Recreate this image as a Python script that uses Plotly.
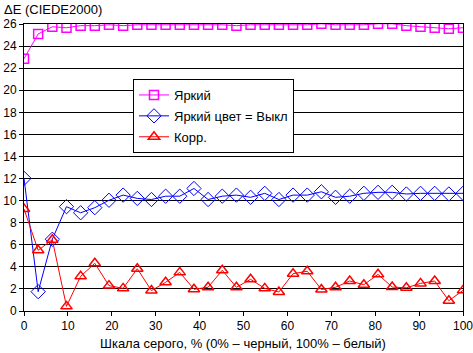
import plotly.graph_objects as go

x_vals = [i * 100 / 31 for i in range(32)]

bright = [22.85, 25.1, 25.75, 25.66, 25.85, 25.85, 25.93, 25.85, 25.93, 25.93,
          25.93, 25.93, 25.93, 25.93, 25.93, 25.85, 25.93, 25.93, 25.93, 25.93,
          25.93, 26.02, 25.93, 25.93, 25.93, 26.02, 26.02, 25.85, 25.75, 25.66,
          25.57, 25.66]

bright_off = [12.02, 1.75, 6.5, 9.45, 8.9, 9.36, 10.03, 10.5, 10.2, 10.1,
              10.4, 10.4, 11.1, 10.1, 10.4, 10.5, 10.3, 10.66, 10.1, 10.5,
              10.5, 10.8, 10.3, 10.4, 10.66, 10.75, 10.75, 10.6, 10.66, 10.66,
              10.6, 10.66]

corr = [9.24, 5.5, 6.46, 0.42, 3.14, 4.32, 2.3, 2.05, 3.83, 1.85,
        2.6, 3.5, 1.97, 2.15, 3.69, 2.15, 2.87, 2.05, 1.72, 3.38,
        3.6, 1.95, 2.15, 2.72, 2.38, 3.32, 2.17, 2.1, 2.5, 2.72,
        0.93, 1.87]

names = ["Яркий", "Яркий цвет = Выкл", "Корр."]
y_title = "ΔE (CIEDE2000)"
x_title = "Шкала серого, % (0% – черный, 100% – белый)"

FONT = "Liberation Sans, Arial, sans-serif"
FS = 13
TFS = 12

fig = go.Figure()
fig.add_trace(go.Scatter(
    x=x_vals, y=bright, name=names[0], mode="lines+markers", legendgroup="a",
    line=dict(color="#FF00FF", width=1),
    marker=dict(symbol="square-open", size=9, color="#FF00FF", line=dict(width=1.5))))
fig.add_trace(go.Scatter(
    x=x_vals, y=bright_off, name=names[1], mode="lines+markers", legendgroup="b",
    line=dict(color="#0000FF", width=1),
    marker=dict(symbol="diamond-open", size=11, color="#0000FF", line=dict(width=1))))
fig.add_trace(go.Scatter(
    x=x_vals, y=corr, name=names[2], mode="lines+markers", legendgroup="c",
    line=dict(color="#FF0000", width=1),
    marker=dict(symbol="triangle-up-open", size=10, color="#FF0000", line=dict(width=1.5))))

fig.update_layout(
    width=473, height=353,
    margin=dict(l=24, r=10, t=24, b=42),
    paper_bgcolor="white", plot_bgcolor="white",
    font=dict(family=FONT, size=FS, color="black"),
    showlegend=True,
    legend=dict(
        x=(133 - 24) / 439, y=(311 - 79) / 287, xanchor="left", yanchor="top",
        bgcolor="white", bordercolor="black", borderwidth=1,
        font=dict(family=FONT, size=FS, color="black"),
        tracegroupgap=1, traceorder="grouped",
    ),
    xaxis=dict(
        range=[0, 100], tickmode="array", tickvals=list(range(0, 101, 10)),
        showgrid=False, zeroline=False, automargin=False, ticklabeloverflow="allow",
        showline=True, linecolor="black", linewidth=1, mirror=True,
        ticks="outside", ticklen=4, tickcolor="black", tickwidth=1,
        tickfont=dict(family=FONT, size=TFS, color="black"),
    ),
    yaxis=dict(
        range=[0, 26], tickmode="array", tickvals=list(range(0, 27, 2)),
        showgrid=True, gridcolor="black", gridwidth=1, zeroline=False,
        automargin=False, ticklabeloverflow="allow",
        showline=True, linecolor="black", linewidth=1, mirror=True,
        ticks="outside", ticklen=4, tickcolor="black", tickwidth=1,
        tickfont=dict(family=FONT, size=TFS, color="black"),
    ),
    annotations=[
        dict(text=y_title, xref="paper", yref="paper",
             x=(2 - 24) / 439, y=(311 - 0) / 287, xanchor="left", yanchor="top",
             showarrow=False, font=dict(family=FONT, size=FS, color="black")),
        dict(text=x_title, xref="paper", yref="paper",
             x=(243 - 24) / 439, y=(311 - 343) / 287, xanchor="center", yanchor="middle",
             showarrow=False, font=dict(family=FONT, size=FS, color="black")),
    ],
)

fig.write_html("out.html")
